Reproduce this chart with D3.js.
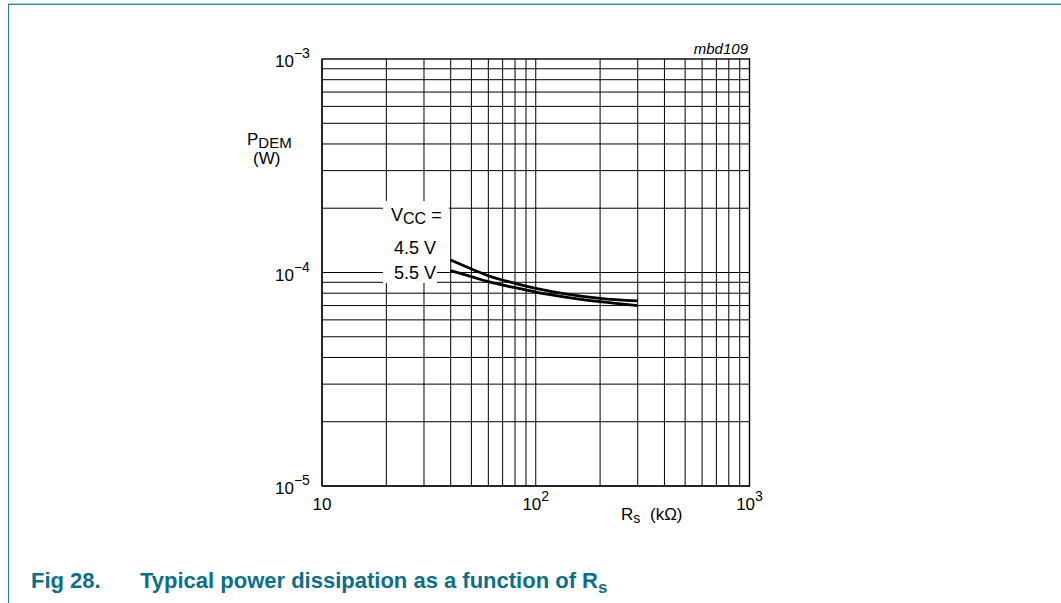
<!DOCTYPE html>
<html>
<head>
<meta charset="utf-8">
<title>Typical power dissipation</title>
<script src="https://cdn.jsdelivr.net/npm/d3@7"></script>
<style>
    body { margin: 0; background: #fff; }
    svg text { font-family: Arial, "Liberation Sans", sans-serif; fill: #000; }
    .grid line { stroke: #000; stroke-width: 1; }
    .frame { fill: none; stroke: #000; stroke-width: 1.4; }
    .curve { fill: none; stroke: #000; stroke-width: 2.8; }
</style>
</head>
<body>
<svg width="1061" height="603"></svg>
<script>
    // R_s in kOhm
    var rs = [40, 50, 60, 80, 100, 200, 300];
    // P_DEM in W, one array per supply voltage
    var p45 = [1.144e-4, 1.039e-4, 9.66e-5, 8.90e-5, 8.43e-5, 7.57e-5, 7.36e-5];
    var p55 = [1.020e-4, 9.56e-5, 9.06e-5, 8.49e-5, 8.10e-5, 7.30e-5, 6.99e-5];
    var seriesNames = ["4.5 V", "5.5 V"];

    var xDecades = [10, 100, 1000];
    var xTickLabels = [["10", ""], ["10", "2"], ["10", "3"]];
    var yDecades = [1e-5, 1e-4, 1e-3];
    var yTickLabels = [["10", "\u22125"], ["10", "\u22124"], ["10", "\u22123"]];

    var svg = d3.select("svg");

    var x = d3.scaleLog().domain([10, 1000]).range([322, 749.5]);
    var y = d3.scaleLog().domain([1e-5, 1e-3]).range([486, 59]);

    // page border
    svg.append("rect").attr("x", 8).attr("y", 3).attr("width", 1053).attr("height", 1).attr("fill", "#a9d0da");
    svg.append("rect").attr("x", 8).attr("y", 4).attr("width", 1053).attr("height", 1).attr("fill", "#2a869e");
    svg.append("rect").attr("x", 8).attr("y", 4).attr("width", 1).attr("height", 599).attr("fill", "#1f7f98");

    // grid values: 1..9 of each decade
    var xGrid = [], yGrid = [];
    [10, 100].forEach(function (d) {
        for (var k = 1; k < 10; k++) xGrid.push(d * k);
    });
    [1e-5, 1e-4].forEach(function (d) {
        for (var k = 1; k < 10; k++) yGrid.push(d * k);
    });

    var grid = svg.append("g").attr("class", "grid");
    grid.selectAll("line.v").data(xGrid).enter().append("line")
        .attr("class", "v")
        .attr("x1", function (d) { return x(d); })
        .attr("x2", function (d) { return x(d); })
        .attr("y1", y(1e-5)).attr("y2", y(1e-3));
    grid.selectAll("line.h").data(yGrid).enter().append("line")
        .attr("class", "h")
        .attr("y1", function (d) { return y(d); })
        .attr("y2", function (d) { return y(d); })
        .attr("x1", x(10)).attr("x2", x(1000));

    svg.append("rect").attr("class", "frame")
        .attr("x", x(10)).attr("y", y(1e-3))
        .attr("width", x(1000) - x(10)).attr("height", y(1e-5) - y(1e-3));

    // legend background (white knock-out over the grid)
    svg.append("rect").attr("x", 383).attr("y", 201).attr("width", 66).attr("height", 61).attr("fill", "#fff");
    svg.append("rect").attr("x", 383).attr("y", 261).attr("width", 54).attr("height", 22).attr("fill", "#fff");

    var lg = svg.append("g");
    var vcc = lg.append("text").attr("x", 391).attr("y", 221).style("font-size", "18px");
    vcc.append("tspan").text("V");
    vcc.append("tspan").attr("dy", 3).style("font-size", "16px").text("CC");
    vcc.append("tspan").attr("dy", -3).text(" =");
    lg.append("text").attr("x", 394).attr("y", 254).style("font-size", "18px").text(seriesNames[0]);
    lg.append("text").attr("x", 394).attr("y", 279).style("font-size", "18px").text(seriesNames[1]);

    // curves
    var line = d3.line()
        .x(function (d) { return x(d[0]); })
        .y(function (d) { return y(d[1]); })
        .curve(d3.curveMonotoneX);
    [p45, p55].forEach(function (s) {
        svg.append("path").attr("class", "curve")
            .attr("d", line(rs.map(function (r, i) { return [r, s[i]]; })));
    });

    // y tick labels
    yDecades.forEach(function (d, i) {
        var t = svg.append("text").attr("x", 275).attr("y", y(d) + 8).style("font-size", "17px");
        t.append("tspan").text(yTickLabels[i][0]);
        t.append("tspan").attr("dy", -9).style("font-size", "14px").text(yTickLabels[i][1]);
    });

    // x tick labels
    xDecades.forEach(function (d, i) {
        var t = svg.append("text").attr("x", x(d)).attr("y", 510)
            .attr("text-anchor", "middle").style("font-size", "17px");
        t.append("tspan").text(xTickLabels[i][0]);
        if (xTickLabels[i][1]) t.append("tspan").attr("dy", -9).style("font-size", "14px").text(xTickLabels[i][1]);
    });

    // axis titles
    var xt = svg.append("text").attr("x", 621).attr("y", 520).style("font-size", "17px");
    xt.append("tspan").text("R");
    xt.append("tspan").attr("dy", 3).style("font-size", "14px").text("s");
    xt.append("tspan").attr("dy", -3).attr("x", 650).text("(k\u03A9)");

    var yt = svg.append("text").attr("x", 247).attr("y", 145).style("font-size", "17px");
    yt.append("tspan").text("P");
    yt.append("tspan").attr("dy", 3).style("font-size", "15px").text("DEM");
    svg.append("text").attr("x", 253).attr("y", 164).style("font-size", "17px").text("(W)");

    svg.append("text").attr("x", 748).attr("y", 54).attr("text-anchor", "end")
        .style("font-size", "15px").style("font-style", "italic").text("mbd109");

    // caption
    var cap = svg.append("text").attr("x", 31).attr("y", 588)
        .style("font-size", "22px").style("font-weight", "bold");
    cap.append("tspan").style("fill", "#0a6f8a").text("Fig 28.");
    cap.append("tspan").style("fill", "#0a6f8a").attr("x", 140).text("Typical power dissipation as a function of R");
    cap.append("tspan").style("fill", "#0a6f8a").attr("dy", 5).style("font-size", "17px").text("s");
</script>
</body>
</html>
